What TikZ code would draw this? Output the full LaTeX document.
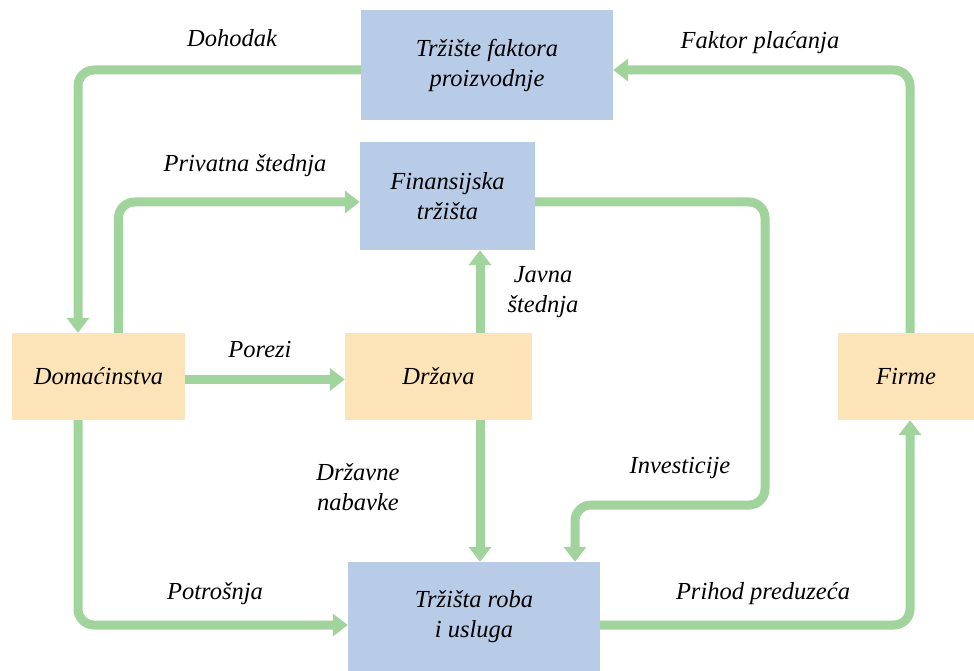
\documentclass[tikz,border=0pt]{standalone}
\usepackage{fontspec}
\setmainfont{Liberation Serif}
\usetikzlibrary{arrows.meta}
\definecolor{plava}{RGB}{184,204,232}
\definecolor{narandz}{RGB}{252,228,184}
\definecolor{zelena}{RGB}{160,212,156}
\begin{document}
\begin{tikzpicture}[x=1pt,y=-1pt,
  font=\fontsize{24.5}{30}\selectfont\itshape,
  box/.style={fill=#1,align=center,inner sep=0pt},
  tok/.style={draw=zelena,line width=9pt,rounded corners=16pt,-{Triangle[width=22pt,length=15pt]}},
  lab/.style={align=center}]
\useasboundingbox(0,0)rectangle(974,671);
% sektori i trzista
\node[box=plava,minimum width=252pt,minimum height=110pt](fak)at(487,65){Tržište faktora\\proizvodnje};
\node[box=plava,minimum width=175pt,minimum height=108pt](fin)at(447.5,196){Finansijska\\tržišta};
\node[box=narandz,minimum width=173pt,minimum height=87pt](dom)at(98.5,376.5){Domaćinstva};
\node[box=narandz,minimum width=187pt,minimum height=87pt](drz)at(438.5,376.5){Država};
\node[box=plava,minimum width=252pt,minimum height=109pt](trz)at(474,616.5){Tržišta roba\\i usluga};
\node[box=narandz,minimum width=136pt,minimum height=87pt](fir)at(906,376.5){Firme};
\coordinate(inv)at(765,505);
% tokovi
\draw[tok]([yshift=-5pt]fak.west)-|([xshift=-20.5pt]dom.north);
\draw[tok]([xshift=20pt]dom.north)|-([yshift=-6pt]fin.west);
\draw[tok]([xshift=4pt]fir.north)|-([yshift=-5pt]fak.east);
\draw[tok]([yshift=-6pt]fin.east)-|(inv)-|([xshift=101pt]trz.north);
\draw[tok]([yshift=-3pt]dom.east)--([yshift=-3pt]drz.west);
\draw[tok]([xshift=41.5pt]drz.north)--([xshift=41.5pt]drz.north|-fin.south);
\draw[tok]([xshift=41.5pt]drz.south)--([xshift=41.5pt]drz.south|-trz.north);
\draw[tok]([xshift=-20.5pt]dom.south)|-([yshift=-8.5pt]trz.west);
\draw[tok]([yshift=-8.5pt]trz.east)-|([xshift=4pt]fir.south);
% natpisi
\node[lab](l1)at(232,38){Dohodak};
\node[lab](l2)at(760,43){Faktor plaćanja};
\node[lab](l3)at(245,166){Privatna štednja};
\node[lab](l4)at(543,292){Javna\\štednja};
\node[lab](l5)at(260,350){Porezi};
\node[lab](l6)at(358,487){Državne\\nabavke};
\node[lab](l7)at(680,468){Investicije};
\node[lab](l8)at(215,594){Potrošnja};
\node[lab](l9)at(763,594){Prihod preduzeća};
\end{tikzpicture}
\end{document}
